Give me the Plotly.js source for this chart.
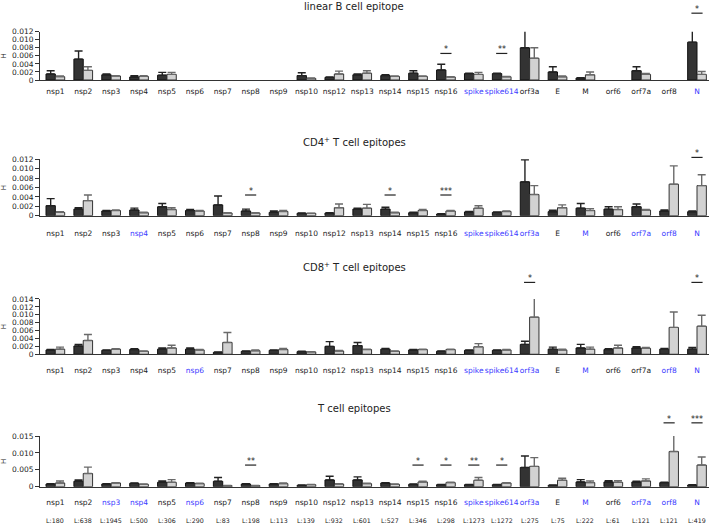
<!DOCTYPE html>
<html>
<head>
<meta charset="utf-8">
<script src="https://cdn.plot.ly/plotly-3.0.1.min.js"></script>
<style>html,body{margin:0;padding:0;background:#fff;}#chart{width:709px;height:524px;}</style>
</head>
<body>
<div id="chart"></div>
<script>
const categories = ['nsp1','nsp2','nsp3','nsp4','nsp5','nsp6','nsp7','nsp8','nsp9','nsp10','nsp12','nsp13','nsp14','nsp15','nsp16','spike','spike614','orf3a','E','M','orf6','orf7a','orf8','N'];
const proteinLengths = ['L:180','L:638','L:1945','L:500','L:306','L:290','L:83','L:198','L:113','L:139','L:932','L:601','L:527','L:346','L:298','L:1273','L:1272','L:275','L:75','L:222','L:61','L:121','L:121','L:419'];

const panelTitles = ['linear B cell epitope', 'CD4<sup>+</sup> T cell epitopes', 'CD8<sup>+</sup> T cell epitopes', 'T cell epitopes'];

// linear B cell epitope
const bDark      = [0.0015,0.0052,0.0013,0.00075,0.0012,null,null,null,null,0.0011,0.00066,0.0013,0.0011,0.0017,0.0025,0.0016,0.0016,0.0080,0.0020,0.0005,null,0.0023,null,0.0094];
const bDarkErr   = [0.0008,0.0020,0.0002,0.00035,0.0007,null,null,null,null,0.0007,0.0001,0.0002,0.0002,0.0006,0.0014,0.0001,0.0001,0.0059,0.0013,0.0001,null,0.0010,null,0.0038];
const bLight     = [0.00083,0.0024,0.0010,0.0009,0.0014,null,null,null,null,0.0004,0.0015,0.0017,0.0009,0.0009,0.00075,0.0014,0.0008,0.0054,0.0008,0.0013,null,0.0014,null,0.0014];
const bLightErr  = [0.00017,0.0009,0.0001,0.0002,0.0005,null,null,null,null,0.0001,0.0007,0.0006,0.0001,0.0001,0.00005,0.0005,0.0001,0.0026,0.0002,0.0007,null,0.0002,null,0.0007];
const bBlue      = ['spike','spike614','N'];
const bSigCats   = ['nsp16','spike614','N'];
const bSigText   = ['*','**','*'];
const bSigLevel  = [0.0066,0.0066,0.0166];

// CD4+ T cell epitopes
const cd4Dark     = [0.00213,0.0014,0.0010,0.0012,0.0019,0.0011,0.0023,0.0010,0.0007,0.0005,0.00057,0.0014,0.0014,0.00064,0.00035,0.0008,0.0007,0.0072,0.00085,0.0016,0.0014,0.0019,0.0010,0.00085];
const cd4DarkErr  = [0.0015,0.0003,0.0001,0.0004,0.0007,0.0002,0.0019,0.0004,0.0003,0.0001,0.00005,0.0002,0.0004,0.0001,0.00005,0.0001,0.0001,0.0047,0.0003,0.0010,0.0005,0.0006,0.0002,0.00015];
const cd4Light    = [0.0007,0.0032,0.0011,0.00064,0.0013,0.0010,0.00057,0.00057,0.0009,0.0005,0.0017,0.0016,0.00064,0.0011,0.0010,0.0016,0.0009,0.0045,0.0017,0.0011,0.0013,0.0012,0.0067,0.0064];
const cd4LightErr = [0.00015,0.0012,0.0001,0.0001,0.0004,0.0001,0.00005,0.00005,0.0002,0.00005,0.0008,0.0008,0.0001,0.0002,0.0001,0.0005,0.0001,0.0019,0.0006,0.0004,0.0006,0.0001,0.0039,0.0023];
const cd4Blue     = ['nsp4','spike','spike614','orf3a','M','orf7a','orf8','N'];
const cd4SigCats  = ['nsp8','nsp14','nsp16','N'];
const cd4SigText  = ['*','*','***','*'];
const cd4SigLevel = [0.0044,0.0044,0.0044,0.0124];

// CD8+ T cell epitopes
const cd8Dark     = [0.0011,0.0021,0.0010,0.0012,0.0013,0.0013,0.0005,0.00076,0.0010,0.00067,0.0020,0.0022,0.0013,0.0011,0.00076,0.0010,0.0010,0.0025,0.0013,0.0016,0.0012,0.0016,0.0013,0.0013];
const cd8DarkErr  = [0.0001,0.0004,0.0001,0.0002,0.0003,0.0003,0.0001,0.00005,0.0001,0.0001,0.0012,0.0008,0.0002,0.0001,0.00005,0.0001,0.0001,0.0008,0.0005,0.0009,0.0002,0.0003,0.0002,0.0004];
const cd8Light    = [0.0013,0.0035,0.0013,0.00076,0.0016,0.0011,0.0030,0.0009,0.0012,0.0006,0.00084,0.0012,0.00076,0.0012,0.0012,0.0019,0.0011,0.0094,0.0011,0.0013,0.0016,0.0015,0.0068,0.0071];
const cd8LightErr = [0.0005,0.0015,0.0001,0.00005,0.0007,0.0001,0.0025,0.0002,0.0003,0.00005,0.0001,0.0001,0.00005,0.0001,0.0001,0.0008,0.0001,0.0049,0.0002,0.0005,0.0007,0.0002,0.0039,0.0028];
const cd8Blue     = ['nsp6','spike','spike614','orf3a','M','orf8','N'];
const cd8SigCats  = ['orf3a','N'];
const cd8SigText  = ['*','*'];
const cd8SigLevel = [0.0182,0.0182];

// T cell epitopes
const tDark     = [0.0008,0.0016,0.0008,0.0010,0.0013,0.0011,0.0016,0.0008,0.0008,0.0004,0.0020,0.0020,0.0011,0.0007,0.0006,0.0006,0.0006,0.0057,0.0004,0.0014,0.0014,0.0014,0.0012,0.0005];
const tDarkErr  = [0.0001,0.0004,0.0001,0.0001,0.0004,0.0001,0.0011,0.0001,0.0001,0.0001,0.0011,0.0009,0.0001,0.0001,0.0001,0.0001,0.0001,0.0034,0.0001,0.0007,0.0004,0.0002,0.0001,0.0001];
const tLight    = [0.0011,0.0039,0.0011,0.0007,0.0013,0.0009,0.0003,0.0003,0.0009,0.0006,0.0008,0.0009,0.0007,0.0014,0.0012,0.0019,0.0011,0.0060,0.0019,0.0012,0.0013,0.0017,0.0104,0.0064];
const tLightErr = [0.0006,0.0019,0.0001,0.0001,0.0008,0.0001,0.00005,0.0001,0.0002,0.0001,0.0001,0.0001,0.0001,0.0002,0.0001,0.0008,0.0001,0.0026,0.0006,0.0005,0.0005,0.0006,0.0062,0.0024];
const tBlue     = ['nsp3','nsp4','nsp6','spike','spike614','orf3a','M','orf7a','orf8','N'];
const tSigCats  = ['nsp8','nsp15','nsp16','spike','spike614','orf8','N'];
const tSigText  = ['**','*','*','**','*','*','***'];
const tSigLevel = [0.0064,0.0064,0.0064,0.0064,0.0064,0.0189,0.0189];

// y ticks
const yTickVals1 = [0,0.002,0.004,0.006,0.008,0.010,0.012];
const yTickText1 = ['0','0.002','0.004','0.006','0.008','0.010','0.012'];
const yTickVals3 = [0,0.002,0.004,0.006,0.008,0.010,0.012,0.014];
const yTickText3 = ['0','0.002','0.004','0.006','0.008','0.010','0.012','0.014'];
const yTickVals4 = [0,0.005,0.010,0.015];
const yTickText4 = ['0','0.005','0.010','0.015'];

const FONT = 'DejaVu Sans, Verdana, sans-serif';
const BLUE = '#3b3bff';

const panels = [
  {dark:bDark, darkErr:bDarkErr, light:bLight, lightErr:bLightErr, blue:bBlue, sigCats:bSigCats, sigText:bSigText, sigLevel:bSigLevel,
   dom:[0.8473,0.9395], ymax:0.012, tv:yTickVals1, tt:yTickText1, ticklen:4, titleY:0.9885},
  {dark:cd4Dark, darkErr:cd4DarkErr, light:cd4Light, lightErr:cd4LightErr, blue:cd4Blue, sigCats:cd4SigCats, sigText:cd4SigText, sigLevel:cd4SigLevel,
   dom:[0.5884,0.6960], ymax:0.012, tv:yTickVals1, tt:yTickText1, ticklen:10, titleY:0.729},
  {dark:cd8Dark, darkErr:cd8DarkErr, light:cd8Light, lightErr:cd8LightErr, blue:cd8Blue, sigCats:cd8SigCats, sigText:cd8SigText, sigLevel:cd8SigLevel,
   dom:[0.3239,0.4294], ymax:0.014, tv:yTickVals3, tt:yTickText3, ticklen:9, titleY:0.4905},
  {dark:tDark, darkErr:tDarkErr, light:tLight, lightErr:tLightErr, blue:tBlue, sigCats:tSigCats, sigText:tSigText, sigLevel:tSigLevel,
   dom:[0.0712,0.1679], ymax:0.015, tv:yTickVals4, tt:yTickText4, ticklen:8, titleY:0.2195}
];

const traces = [];
const layout = {
  width:709, height:524,
  margin:{l:40, r:0, t:0, b:0},
  paper_bgcolor:'#fff', plot_bgcolor:'rgba(0,0,0,0)',
  showlegend:false,
  barmode:'group', bargap:0.33, bargroupgap:0,
  font:{family:FONT, size:8, color:'#222'},
  annotations:[], shapes:[]
};

panels.forEach((p, i) => {
  const n = i + 1;
  const xa = n === 1 ? 'x' : 'x' + n;
  const ya = n === 1 ? 'y' : 'y' + n;
  traces.push({
    type:'bar', x:categories, y:p.dark, xaxis:xa, yaxis:ya, offsetgroup:'a',
    marker:{color:'#333333', line:{color:'#111', width:1}},
    error_y:{type:'data', symmetric:false, array:p.darkErr, arrayminus:p.darkErr.map(v => v === null ? null : 0), color:'#222', thickness:1.4, width:4},
    hoverinfo:'skip'
  });
  traces.push({
    type:'bar', x:categories, y:p.light, xaxis:xa, yaxis:ya, offsetgroup:'b',
    marker:{color:'#d2d2d2', line:{color:'#333', width:1}},
    error_y:{type:'data', symmetric:false, array:p.lightErr, arrayminus:p.lightErr.map(v => v === null ? null : 0), color:'#6a6a6a', thickness:1.4, width:4},
    hoverinfo:'skip'
  });
  const tickText = categories.map(c => p.blue.includes(c) ? '<span style="color:' + BLUE + '">' + c + '</span>' : c);
  layout['xaxis' + (n === 1 ? '' : n)] = {
    domain:[0,1], anchor:ya, type:'category', range:[-0.55, 23.43],
    tickmode:'array', tickvals:categories, ticktext:tickText, tickangle:0,
    ticks:'outside', ticklen:p.ticklen, tickcolor:'rgba(0,0,0,0)',
    showline:true, linecolor:'#333', linewidth:1, showgrid:false, zeroline:false,
    tickfont:{family:FONT, size:7.5, color:'#222'}, fixedrange:true
  };
  layout['yaxis' + (n === 1 ? '' : n)] = {
    domain:p.dom, anchor:xa, range:[0, p.ymax],
    tickmode:'array', tickvals:p.tv, ticktext:p.tt,
    ticks:'outside', ticklen:4, tickcolor:'#333', tickwidth:1,
    showline:true, linecolor:'#333', linewidth:1, showgrid:false, zeroline:false,
    tickfont:{family:FONT, size:7.5, color:'#222'},
    title:{text:'H', font:{family:FONT, size:7, color:'#222'}, standoff:4},
    fixedrange:true
  };
  layout.annotations.push({
    xref:'paper', yref:'paper', x:0.47, y:p.titleY, xanchor:'center', yanchor:'middle',
    text:panelTitles[i], showarrow:false, font:{family:FONT, size:10, color:'#222'}
  });
  p.sigCats.forEach((c, k) => {
    const idx = categories.indexOf(c);
    const yPaper = p.dom[0] + p.sigLevel[k] / p.ymax * (p.dom[1] - p.dom[0]);
    layout.shapes.push({
      type:'line', xref:xa, yref:'paper', x0:idx - 0.2, x1:idx + 0.2, y0:yPaper, y1:yPaper,
      line:{color:'#222', width:1.2}
    });
    layout.annotations.push({
      xref:xa, yref:'paper', x:idx, y:yPaper, xanchor:'center', yanchor:'bottom', yshift:-3,
      text:p.sigText[k], showarrow:false, font:{family:FONT, size:8, color:'#222'}
    });
  });
});

// protein lengths under bottom panel
categories.forEach((c, i) => {
  layout.annotations.push({
    xref:'x4', yref:'paper', x:c, y:0.006, xanchor:'center', yanchor:'middle',
    text:proteinLengths[i], showarrow:false, font:{family:FONT, size:6.3, color:'#222'}
  });
});

Plotly.newPlot('chart', traces, layout, {displayModeBar:false, staticPlot:true});
</script>
</body>
</html>
